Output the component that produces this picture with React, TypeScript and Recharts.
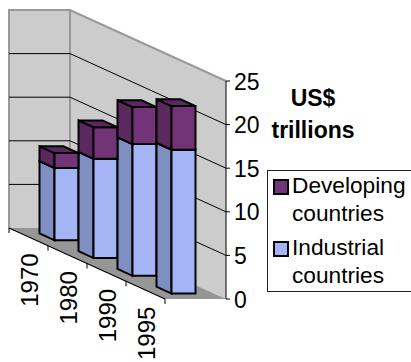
import { Bar, BarChart, CartesianGrid, Legend, ReferenceArea, XAxis, YAxis } from 'recharts';

const years = ['1970', '1980', '1990', '1995'];
const industrial = [8.3, 11.4, 15.1, 16.5];
const developing = [1.7, 3.6, 4.25, 5.0];
const valueTicks = [0, 5, 10, 15, 20, 25];
const gridValues = [5, 10, 15, 20];

const chartData = years.map((year, i) => ({
  year,
  industrial: industrial[i],
  developing: developing[i],
}));

// oblique projection: categories run down the slope, depth runs to the right
const WALL_DEPTH = 61;
const SLOPE = 71 / 156;
const BAR_DEPTH_START = 18.5;
const BAR_DEPTH_END = 42.5;
const FONT = '"Liberation Sans", Arial, sans-serif';
const PLOT_LEFT = 9;
const PLOT_WIDTH = 156;

const lift = (x: number) => (x - PLOT_LEFT) * SLOPE;

function Walls({ x, y, width, height }: any) {
  const bottom = y + height;
  const drop = width * SLOPE;
  const corner = x + WALL_DEPTH;
  const edge = corner + width;
  return (
    <g>
      <polygon points={`${x},${y} ${corner},${y} ${corner},${bottom} ${x},${bottom}`} fill="#cccccc" />
      <polygon
        points={`${corner},${y} ${edge},${y + drop} ${edge},${bottom + drop} ${corner},${bottom}`}
        fill="#cccccc"
      />
      <polygon
        points={`${x},${bottom} ${corner},${bottom} ${edge},${bottom + drop} ${x + width},${bottom + drop}`}
        fill="#969696"
      />
      <polyline
        points={`${x},${bottom} ${x},${y} ${corner},${y} ${edge},${y + drop}`}
        fill="none"
        stroke="#999999"
        strokeWidth={2}
      />
      <line x1={corner} y1={y} x2={corner} y2={bottom} stroke="#999999" strokeWidth={2} />
      <line x1={x} y1={bottom} x2={x + width} y2={bottom + drop} stroke="#000" strokeWidth={1.2} />
      <line x1={edge} y1={y + drop} x2={edge} y2={bottom + drop} stroke="#000" />
      {years.concat('').map((_, i) => {
        const tx = x + (i * width) / years.length;
        const ty = bottom + lift(tx);
        return <line key={i} x1={tx} y1={ty} x2={tx} y2={ty + 5} stroke="#000" />;
      })}
    </g>
  );
}

function gridLine({ x1, x2, y1, key }: any) {
  const corner = x1 + WALL_DEPTH;
  return (
    <g key={key ?? y1}>
      <line x1={x1} y1={y1} x2={corner} y2={y1} stroke="#000" />
      <line x1={corner} y1={y1} x2={x2 + WALL_DEPTH} y2={y1 + lift(x2)} stroke="#000" />
    </g>
  );
}

function ValueTick({ y, payload }: any) {
  const axisX = PLOT_LEFT + PLOT_WIDTH + WALL_DEPTH;
  const ty = y + lift(PLOT_LEFT + PLOT_WIDTH);
  return (
    <g>
      <line x1={axisX} y1={ty} x2={axisX + 4} y2={ty} stroke="#000" />
      <text x={axisX + 8} y={ty + 8.5} fontFamily={FONT} fontSize={23} fill="#000" textAnchor="start">
        {payload.value}
      </text>
    </g>
  );
}

function YearTick({ x, y, payload }: any) {
  const tx = x + 9.5;
  const ty = y + lift(x) + 8.5;
  return (
    <text
      x={tx}
      y={ty}
      transform={`rotate(-90 ${tx} ${ty})`}
      fontFamily={FONT}
      fontSize={24}
      fill="#000"
      textAnchor="end"
    >
      {payload.value}
    </text>
  );
}

// each stacked segment is drawn as a sheared box from the bar's own scaled rectangle
const prism = (front: string, side: string, top: string) =>
  function Prism({ x, y, width, height }: any) {
    const left = x + BAR_DEPTH_START;
    const right = x + width + BAR_DEPTH_START;
    const far = x + width + BAR_DEPTH_END;
    const back = far - width;
    const topBack = y + lift(x);
    const topFront = y + lift(x + width);
    const botBack = topBack + height;
    const botFront = topFront + height;
    const line = { stroke: '#000', strokeWidth: 2, strokeLinejoin: 'miter' as const };
    return (
      <g>
        <polygon points={`${left},${topBack} ${right},${topFront} ${right},${botFront} ${left},${botBack}`} fill={side} {...line} />
        <polygon points={`${right},${topFront} ${far},${topFront} ${far},${botFront} ${right},${botFront}`} fill={front} {...line} />
        <polygon points={`${left},${topBack} ${back},${topBack} ${far},${topFront} ${right},${topFront}`} fill={top} {...line} />
      </g>
    );
  };

function ChartKey({ payload }: any) {
  const items = [...(payload ?? [])].sort((a: any, b: any) => a.value.localeCompare(b.value));
  return (
    <div
      style={{
        boxSizing: 'border-box',
        width: 150,
        height: 122,
        background: '#fff',
        border: '1px solid #222',
        fontFamily: FONT,
        fontSize: 22.7,
        lineHeight: '28px',
        color: '#000',
        paddingTop: 0,
      }}
    >
      {items.map((item: any) => (
        <div key={item.value} style={{ position: 'relative', paddingLeft: 24, height: 62, width: 118 }}>
          <span
            style={{
              position: 'absolute',
              left: 5,
              top: 8,
              width: 12,
              height: 12,
              border: '2px solid #000',
              background: item.color,
            }}
          />
          {item.value}
        </div>
      ))}
    </div>
  );
}

export default function App() {
  return (
    <div style={{ position: 'absolute', left: 0, top: 0, width: 411, height: 362, overflow: 'hidden' }}>
      <BarChart
        width={411}
        height={362}
        data={chartData}
        margin={{ top: 10, right: 245, bottom: 133, left: PLOT_LEFT }}
        barSize={15}
      >
        <ReferenceArea y1={0} y2={25} shape={Walls} ifOverflow="visible" zIndex={-200} />
        <CartesianGrid horizontal={gridLine} horizontalValues={gridValues} vertical={false} />
        <XAxis dataKey="year" height={1} axisLine={false} tickLine={false} interval={0} tick={YearTick} />
        <YAxis
          orientation="right"
          width={1}
          domain={[0, 25]}
          ticks={valueTicks}
          interval={0}
          axisLine={false}
          tickLine={false}
          tick={ValueTick}
        />
        <Legend
          verticalAlign="middle"
          content={ChartKey}
          wrapperStyle={{ position: 'absolute', left: 267, top: 170, width: 150, height: 122 }}
        />
        <Bar
          dataKey="industrial"
          name="Industrial countries"
          stackId="total"
          fill="#a3b5f5"
          shape={prism('#a3b5f5', '#7f8fc2', '#7f8fc2')}
          isAnimationActive={false}
        />
        <Bar
          dataKey="developing"
          name="Developing countries"
          stackId="total"
          fill="#733377"
          shape={prism('#733377', '#5b295f', '#5b295f')}
          isAnimationActive={false}
        />
      </BarChart>
      <div
        style={{
          position: 'absolute',
          left: 262,
          top: 82,
          width: 102,
          textAlign: 'center',
          fontFamily: FONT,
          fontWeight: 'bold',
          fontSize: 23,
          lineHeight: '32px',
          color: '#000',
        }}
      >
        US$
        <br />
        trillions
      </div>
    </div>
  );
}
